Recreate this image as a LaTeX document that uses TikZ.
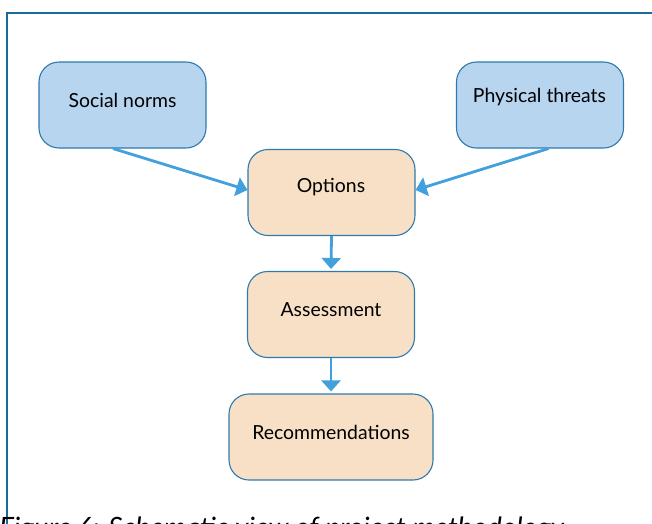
\documentclass[tikz,border=0pt]{standalone}
\usepackage{fontspec}
\setmainfont{Lato}
\usetikzlibrary{arrows.meta}
\definecolor{framec}{HTML}{1A6B97}
\definecolor{edgec}{HTML}{2E7AAE}
\definecolor{bluefill}{HTML}{B8D5F0}
\definecolor{beige}{HTML}{F7E0C6}
\definecolor{arrowc}{HTML}{42A0DC}
\begin{document}
\begin{tikzpicture}[x=1pt,y=-1pt,
  boxbase/.style={draw=edgec, line width=1.1pt, rounded corners=20pt, inner sep=0pt, minimum height=86pt},
  bluebox/.style={boxbase, fill=bluefill, minimum width=167pt},
  beigebox/.style={boxbase, fill=beige, minimum width=167pt},
  txt/.style={anchor=base, font=\fontsize{19.4}{23}\selectfont, inner sep=0pt},
  flow/.style={draw=arrowc, line width=2.8pt, -{Triangle[width=19pt,length=11pt]}}
]
\clip (0,0) rectangle (652,523);
\fill[white] (0,0) rectangle (652,523);
% frame
\draw[framec, line width=2.2pt] (7,530) -- (7,13) -- (660,13);
% boxes
\node[bluebox] (social) at (122.5,105) {};
\node[bluebox] (phys) at (540,105) {};
\node[beigebox] (options) at (331.5,192.5) {};
\node[beigebox] (assess) at (331,314.5) {};
\node[beigebox, minimum width=204pt] (recom) at (331,437) {};
% texts
\node[txt] (socialt) at (122.5,107) {Social norms};
\node[txt] (physt) at (539.5,102) {Physical threats};
\node[txt] (optionst) at (331,192) {Options};
\node[txt] (assesst) at (331,316) {Assessment};
\node[txt] (recomt) at (331,439) {Recommendations};
% connector ends
\coordinate (s1) at ([xshift=-9.5pt]social.south);
\coordinate (p1) at ([xshift=8.5pt]phys.south);
\coordinate (o1) at ([yshift=2.5pt]options.west);
\coordinate (o2) at ([yshift=2.5pt]options.east);
\draw[flow] (s1) -- (o1);
\draw[flow] (p1) -- (o2);
\draw[flow, shorten >=2pt] (options.south) -- (assess.north);
\draw[flow, shorten >=2pt] (assess.south) -- (recom.north);
% caption (cut off at the lower edge, as in the reference)
\node[anchor=base west, inner sep=0pt, font=\itshape\fontsize{28}{33}\selectfont] (cap) at (-1,537) {Figure 6: Schematic view of project methodology};
\end{tikzpicture}
\end{document}
